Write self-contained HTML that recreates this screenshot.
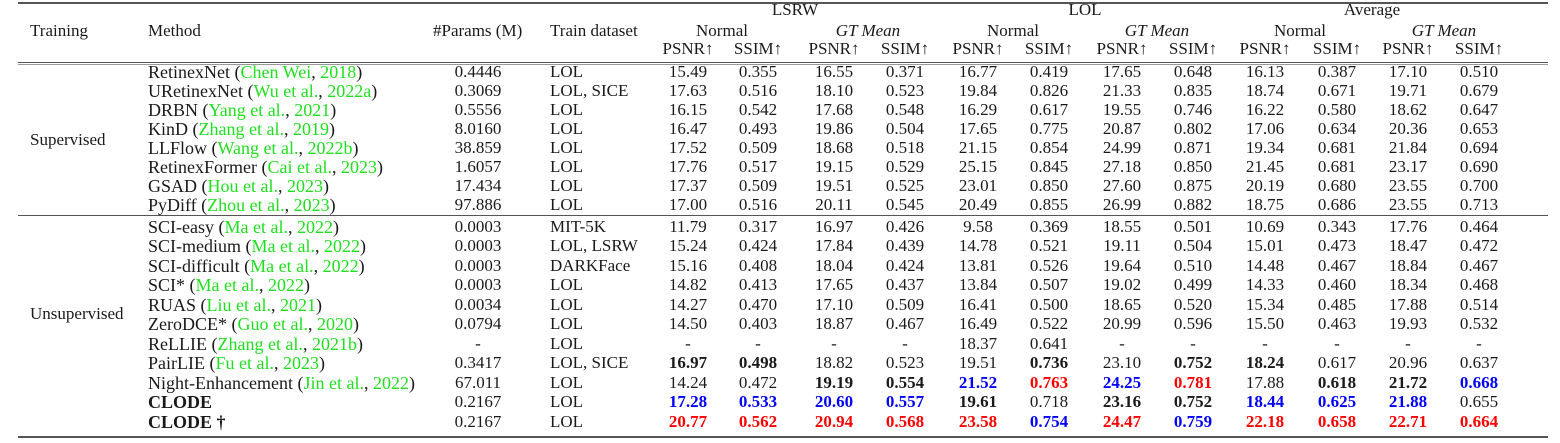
<!DOCTYPE html>
<html><head><meta charset="utf-8"><style>
body{margin:0;width:1560px;height:443px;background:#fff;overflow:hidden;font-family:"Liberation Serif",serif;font-size:17px;color:#1a1a1a}
.r{position:absolute;left:0;width:1560px;height:20px;line-height:20px}
.r span{position:absolute;white-space:nowrap}
.r span span{position:static}
.n{width:90px;text-align:center}
.a{left:643px}.b{left:713px}.c{left:789px}.d{left:860px}.e{left:933px}.f{left:1004px}.g{left:1077px}.h{left:1148px}.i{left:1220px}.j{left:1292px}.k{left:1363px}.l{left:1434px}
.p{left:438px;width:80px;text-align:center}
.t{left:550px}.m{left:148px;font-size:18px}.tr{left:30px}
.gr{color:#1fe01f}.B{font-weight:bold}.bl{color:#0000ff;font-weight:bold}.rd{color:#ff0000;font-weight:bold}
.ln{position:absolute;left:18px;width:1530px;background:#555}
i{font-style:italic}
</style></head><body>
<div class="ln" style="top:2px;height:2px"></div>
<div class="ln" style="top:62px;height:1px"></div>
<div class="ln" style="top:64px;height:1px;background:#999"></div>
<div class="ln" style="top:215px;height:1px"></div>
<div class="ln" style="top:436px;height:2px"></div>

<div class="r" style="top:0px"><span style="left:745px;width:100px;text-align:center">LSRW</span><span style="left:1035px;width:100px;text-align:center">LOL</span><span style="left:1322px;width:100px;text-align:center">Average</span></div>
<div class="r" style="top:21px"><span class="tr">Training</span><span class="m" style="font-size:17px">Method</span><span style="left:433px">#Params (M)</span><span class="t">Train dataset</span>
<span style="left:672px;width:100px;text-align:center">Normal</span><span style="left:818px;width:100px;text-align:center"><i>GT Mean</i></span>
<span style="left:963px;width:100px;text-align:center">Normal</span><span style="left:1107px;width:100px;text-align:center"><i>GT Mean</i></span>
<span style="left:1250px;width:100px;text-align:center">Normal</span><span style="left:1394px;width:100px;text-align:center"><i>GT Mean</i></span></div>
<div class="r" style="top:39px"><span class="n a">PSNR↑</span><span class="n b">SSIM↑</span><span class="n c">PSNR↑</span><span class="n d">SSIM↑</span><span class="n e">PSNR↑</span><span class="n f">SSIM↑</span><span class="n g">PSNR↑</span><span class="n h">SSIM↑</span><span class="n i">PSNR↑</span><span class="n j">SSIM↑</span><span class="n k">PSNR↑</span><span class="n l">SSIM↑</span></div>

<div class="r" style="top:130px"><span class="tr">Supervised</span></div>
<div class="r" style="top:304px"><span class="tr">Unsupervised</span></div>

<div class="r" style="top:62px"><span class="m">RetinexNet (<span class="gr">Chen Wei</span>, <span class="gr">2018</span>)</span><span class="p">0.4446</span><span class="t">LOL</span><span class="n a">15.49</span><span class="n b">0.355</span><span class="n c">16.55</span><span class="n d">0.371</span><span class="n e">16.77</span><span class="n f">0.419</span><span class="n g">17.65</span><span class="n h">0.648</span><span class="n i">16.13</span><span class="n j">0.387</span><span class="n k">17.10</span><span class="n l">0.510</span></div>
<div class="r" style="top:81px"><span class="m">URetinexNet (<span class="gr">Wu et al.</span>, <span class="gr">2022a</span>)</span><span class="p">0.3069</span><span class="t">LOL, SICE</span><span class="n a">17.63</span><span class="n b">0.516</span><span class="n c">18.10</span><span class="n d">0.523</span><span class="n e">19.84</span><span class="n f">0.826</span><span class="n g">21.33</span><span class="n h">0.835</span><span class="n i">18.74</span><span class="n j">0.671</span><span class="n k">19.71</span><span class="n l">0.679</span></div>
<div class="r" style="top:100px"><span class="m">DRBN (<span class="gr">Yang et al.</span>, <span class="gr">2021</span>)</span><span class="p">0.5556</span><span class="t">LOL</span><span class="n a">16.15</span><span class="n b">0.542</span><span class="n c">17.68</span><span class="n d">0.548</span><span class="n e">16.29</span><span class="n f">0.617</span><span class="n g">19.55</span><span class="n h">0.746</span><span class="n i">16.22</span><span class="n j">0.580</span><span class="n k">18.62</span><span class="n l">0.647</span></div>
<div class="r" style="top:119px"><span class="m">KinD (<span class="gr">Zhang et al.</span>, <span class="gr">2019</span>)</span><span class="p">8.0160</span><span class="t">LOL</span><span class="n a">16.47</span><span class="n b">0.493</span><span class="n c">19.86</span><span class="n d">0.504</span><span class="n e">17.65</span><span class="n f">0.775</span><span class="n g">20.87</span><span class="n h">0.802</span><span class="n i">17.06</span><span class="n j">0.634</span><span class="n k">20.36</span><span class="n l">0.653</span></div>
<div class="r" style="top:138px"><span class="m">LLFlow (<span class="gr">Wang et al.</span>, <span class="gr">2022b</span>)</span><span class="p">38.859</span><span class="t">LOL</span><span class="n a">17.52</span><span class="n b">0.509</span><span class="n c">18.68</span><span class="n d">0.518</span><span class="n e">21.15</span><span class="n f">0.854</span><span class="n g">24.99</span><span class="n h">0.871</span><span class="n i">19.34</span><span class="n j">0.681</span><span class="n k">21.84</span><span class="n l">0.694</span></div>
<div class="r" style="top:157px"><span class="m">RetinexFormer (<span class="gr">Cai et al.</span>, <span class="gr">2023</span>)</span><span class="p">1.6057</span><span class="t">LOL</span><span class="n a">17.76</span><span class="n b">0.517</span><span class="n c">19.15</span><span class="n d">0.529</span><span class="n e">25.15</span><span class="n f">0.845</span><span class="n g">27.18</span><span class="n h">0.850</span><span class="n i">21.45</span><span class="n j">0.681</span><span class="n k">23.17</span><span class="n l">0.690</span></div>
<div class="r" style="top:176px"><span class="m">GSAD (<span class="gr">Hou et al.</span>, <span class="gr">2023</span>)</span><span class="p">17.434</span><span class="t">LOL</span><span class="n a">17.37</span><span class="n b">0.509</span><span class="n c">19.51</span><span class="n d">0.525</span><span class="n e">23.01</span><span class="n f">0.850</span><span class="n g">27.60</span><span class="n h">0.875</span><span class="n i">20.19</span><span class="n j">0.680</span><span class="n k">23.55</span><span class="n l">0.700</span></div>
<div class="r" style="top:195px"><span class="m">PyDiff (<span class="gr">Zhou et al.</span>, <span class="gr">2023</span>)</span><span class="p">97.886</span><span class="t">LOL</span><span class="n a">17.00</span><span class="n b">0.516</span><span class="n c">20.11</span><span class="n d">0.545</span><span class="n e">20.49</span><span class="n f">0.855</span><span class="n g">26.99</span><span class="n h">0.882</span><span class="n i">18.75</span><span class="n j">0.686</span><span class="n k">23.55</span><span class="n l">0.713</span></div>

<div class="r" style="top:217px"><span class="m">SCI-easy (<span class="gr">Ma et al.</span>, <span class="gr">2022</span>)</span><span class="p">0.0003</span><span class="t">MIT-5K</span><span class="n a">11.79</span><span class="n b">0.317</span><span class="n c">16.97</span><span class="n d">0.426</span><span class="n e">9.58</span><span class="n f">0.369</span><span class="n g">18.55</span><span class="n h">0.501</span><span class="n i">10.69</span><span class="n j">0.343</span><span class="n k">17.76</span><span class="n l">0.464</span></div>
<div class="r" style="top:236px"><span class="m">SCI-medium (<span class="gr">Ma et al.</span>, <span class="gr">2022</span>)</span><span class="p">0.0003</span><span class="t">LOL, LSRW</span><span class="n a">15.24</span><span class="n b">0.424</span><span class="n c">17.84</span><span class="n d">0.439</span><span class="n e">14.78</span><span class="n f">0.521</span><span class="n g">19.11</span><span class="n h">0.504</span><span class="n i">15.01</span><span class="n j">0.473</span><span class="n k">18.47</span><span class="n l">0.472</span></div>
<div class="r" style="top:256px"><span class="m">SCI-difficult (<span class="gr">Ma et al.</span>, <span class="gr">2022</span>)</span><span class="p">0.0003</span><span class="t">DARKFace</span><span class="n a">15.16</span><span class="n b">0.408</span><span class="n c">18.04</span><span class="n d">0.424</span><span class="n e">13.81</span><span class="n f">0.526</span><span class="n g">19.64</span><span class="n h">0.510</span><span class="n i">14.48</span><span class="n j">0.467</span><span class="n k">18.84</span><span class="n l">0.467</span></div>
<div class="r" style="top:275px"><span class="m">SCI* (<span class="gr">Ma et al.</span>, <span class="gr">2022</span>)</span><span class="p">0.0003</span><span class="t">LOL</span><span class="n a">14.82</span><span class="n b">0.413</span><span class="n c">17.65</span><span class="n d">0.437</span><span class="n e">13.84</span><span class="n f">0.507</span><span class="n g">19.02</span><span class="n h">0.499</span><span class="n i">14.33</span><span class="n j">0.460</span><span class="n k">18.34</span><span class="n l">0.468</span></div>
<div class="r" style="top:295px"><span class="m">RUAS (<span class="gr">Liu et al.</span>, <span class="gr">2021</span>)</span><span class="p">0.0034</span><span class="t">LOL</span><span class="n a">14.27</span><span class="n b">0.470</span><span class="n c">17.10</span><span class="n d">0.509</span><span class="n e">16.41</span><span class="n f">0.500</span><span class="n g">18.65</span><span class="n h">0.520</span><span class="n i">15.34</span><span class="n j">0.485</span><span class="n k">17.88</span><span class="n l">0.514</span></div>
<div class="r" style="top:314px"><span class="m">ZeroDCE* (<span class="gr">Guo et al.</span>, <span class="gr">2020</span>)</span><span class="p">0.0794</span><span class="t">LOL</span><span class="n a">14.50</span><span class="n b">0.403</span><span class="n c">18.87</span><span class="n d">0.467</span><span class="n e">16.49</span><span class="n f">0.522</span><span class="n g">20.99</span><span class="n h">0.596</span><span class="n i">15.50</span><span class="n j">0.463</span><span class="n k">19.93</span><span class="n l">0.532</span></div>
<div class="r" style="top:334px"><span class="m">ReLLIE (<span class="gr">Zhang et al.</span>, <span class="gr">2021b</span>)</span><span class="p">-</span><span class="t">LOL</span><span class="n a">-</span><span class="n b">-</span><span class="n c">-</span><span class="n d">-</span><span class="n e">18.37</span><span class="n f">0.641</span><span class="n g">-</span><span class="n h">-</span><span class="n i">-</span><span class="n j">-</span><span class="n k">-</span><span class="n l">-</span></div>
<div class="r" style="top:353px"><span class="m">PairLIE (<span class="gr">Fu et al.</span>, <span class="gr">2023</span>)</span><span class="p">0.3417</span><span class="t">LOL, SICE</span><span class="n a B">16.97</span><span class="n b B">0.498</span><span class="n c">18.82</span><span class="n d">0.523</span><span class="n e">19.51</span><span class="n f B">0.736</span><span class="n g">23.10</span><span class="n h B">0.752</span><span class="n i B">18.24</span><span class="n j">0.617</span><span class="n k">20.96</span><span class="n l">0.637</span></div>
<div class="r" style="top:373px"><span class="m">Night-Enhancement (<span class="gr">Jin et al.</span>, <span class="gr">2022</span>)</span><span class="p">67.011</span><span class="t">LOL</span><span class="n a">14.24</span><span class="n b">0.472</span><span class="n c B">19.19</span><span class="n d B">0.554</span><span class="n e bl">21.52</span><span class="n f rd">0.763</span><span class="n g bl">24.25</span><span class="n h rd">0.781</span><span class="n i">17.88</span><span class="n j B">0.618</span><span class="n k B">21.72</span><span class="n l bl">0.668</span></div>
<div class="r" style="top:392px"><span class="m B">CLODE</span><span class="p">0.2167</span><span class="t">LOL</span><span class="n a bl">17.28</span><span class="n b bl">0.533</span><span class="n c bl">20.60</span><span class="n d bl">0.557</span><span class="n e B">19.61</span><span class="n f">0.718</span><span class="n g B">23.16</span><span class="n h B">0.752</span><span class="n i bl">18.44</span><span class="n j bl">0.625</span><span class="n k bl">21.88</span><span class="n l">0.655</span></div>
<div class="r" style="top:412px"><span class="m B">CLODE †</span><span class="p">0.2167</span><span class="t">LOL</span><span class="n a rd">20.77</span><span class="n b rd">0.562</span><span class="n c rd">20.94</span><span class="n d rd">0.568</span><span class="n e rd">23.58</span><span class="n f bl">0.754</span><span class="n g rd">24.47</span><span class="n h bl">0.759</span><span class="n i rd">22.18</span><span class="n j rd">0.658</span><span class="n k rd">22.71</span><span class="n l rd">0.664</span></div>
</body></html>
